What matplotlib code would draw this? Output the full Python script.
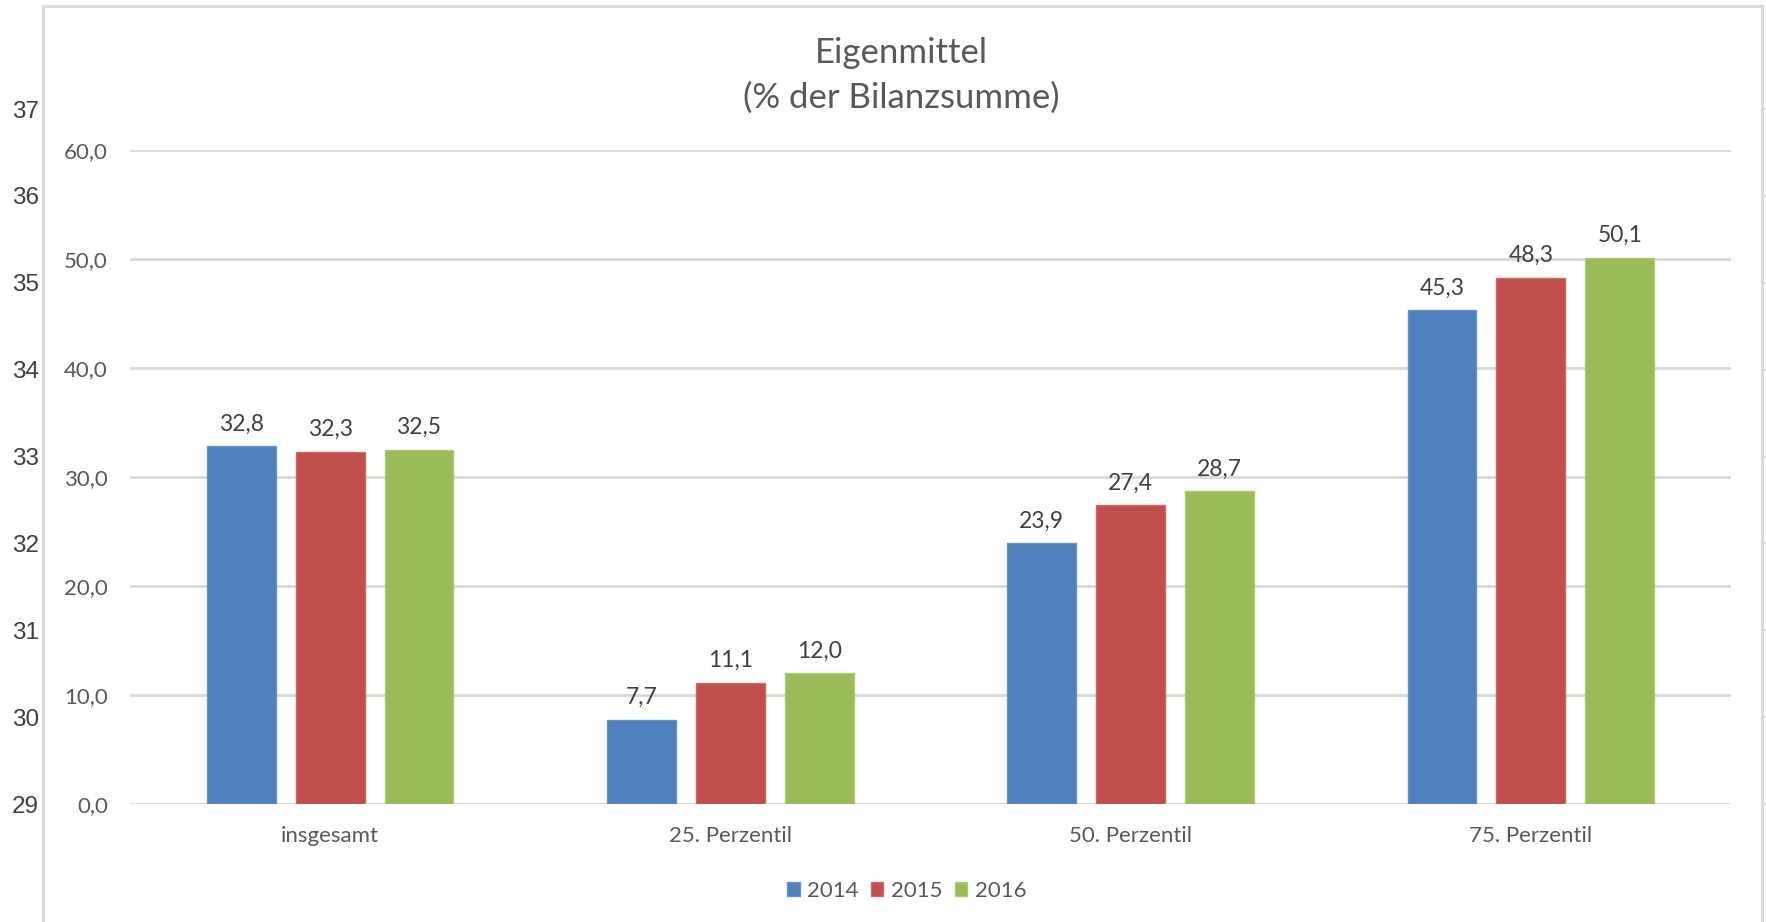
import matplotlib
matplotlib.use("Agg")
import matplotlib.pyplot as plt
import numpy as np
from matplotlib.patches import Rectangle

categories = ["insgesamt", "25. Perzentil", "50. Perzentil", "75. Perzentil"]
years = ["2014", "2015", "2016"]
values_2014 = [32.8, 7.7, 23.9, 45.3]
values_2015 = [32.3, 11.1, 27.4, 48.3]
values_2016 = [32.5, 12.0, 28.7, 50.1]
y_ticks = [0, 10, 20, 30, 40, 50, 60]
bg_ticks = [29, 30, 31, 32, 33, 34, 35, 36, 37]

colors = ["#4F81BD", "#C0504D", "#9BBB59"]
edge_colors = ["#6A94C8", "#CC6A67", "#AECB74"]
FONT = ["Lato", "DejaVu Sans"]
plt.rcParams['font.family'] = FONT

W, H = 1766, 922
fig = plt.figure(figsize=(W / 100, H / 100), dpi=100)

# chart frame (Excel chart area border)
fig.patches.append(Rectangle((43 / W, -0.05), (1762 - 43) / W, (922 - 6) / H + 0.05,
                             transform=fig.transFigure, fill=False,
                             edgecolor="#D9D9D9", linewidth=2.2, zorder=0))

# background spreadsheet axis labels (from underlying sheet)
axb = fig.add_axes([43 / W, (922 - 804) / H, 0.0001, (804 - 109) / H])
axb.set_ylim(29, 37)
axb.set_yticks(bg_ticks)
axb.set_yticklabels([str(t) for t in bg_ticks], fontsize=17.5, color="#404040",
                    family=["Liberation Sans", "DejaVu Sans"])
axb.tick_params(axis="y", length=0, pad=3)
axb.set_xticks([])
for s in axb.spines.values():
    s.set_visible(False)
axb.patch.set_alpha(0)

axr = fig.add_axes([1762 / W, (922 - 804) / H, 0.0001, (804 - 109) / H])
axr.set_ylim(29, 37)
axr.set_yticks(bg_ticks)
axr.set_yticklabels([])
axr.yaxis.tick_right()
axr.tick_params(axis="y", length=5, color="#D9D9D9", width=1.5)
axr.set_xticks([])
for s in axr.spines.values():
    s.set_visible(False)
axr.patch.set_alpha(0)

# main axes
ax = fig.add_axes([130 / W, (922 - 804) / H, (1731 - 130) / W, (804 - 150) / H])
ax.set_xlim(-0.5, len(categories) - 0.5)
ax.set_ylim(0, 60)
ax.patch.set_alpha(0)

x = np.arange(len(categories))
bw = 0.172
off = 0.222
series = [values_2014, values_2015, values_2016]
for i, (vals, c, ec) in enumerate(zip(series, colors, edge_colors)):
    bars = ax.bar(x + (i - 1) * off, vals, width=bw, color=c, edgecolor=ec,
                  linewidth=1.0, label=years[i], zorder=3)
    for b, v in zip(bars, vals):
        ax.annotate(f"{v:.1f}".replace(".", ","), (b.get_x() + b.get_width() / 2, v),
                    xytext=(0, 8.5), textcoords="offset points", ha="center", va="bottom",
                    fontsize=16.5, color="#404040")

ax.set_yticks(y_ticks)
ax.set_yticklabels([f"{t:.1f}".replace(".", ",") for t in y_ticks], fontsize=16, color="#595959")
ax.yaxis.grid(True, color="#D9D9D9", linewidth=2, zorder=0)
ax.set_axisbelow(True)
ax.tick_params(axis="y", length=0, pad=16)
ax.set_xticks(x)
ax.set_xticklabels(categories, fontsize=16, color="#595959")
ax.tick_params(axis="x", length=0, pad=16)
for s in ax.spines.values():
    s.set_visible(False)

fig.text(901 / W, 1 - 53 / H, "Eigenmittel", ha="center", va="center",
         fontsize=25, color="#595959")
fig.text(901 / W, 1 - 98 / H, "(% der Bilanzsumme)", ha="center", va="center",
         fontsize=25, color="#595959")

handles = [Rectangle((0, 0), 1, 1, facecolor=c, edgecolor=ec) for c, ec in zip(colors, edge_colors)]
fig.legend(handles, years, loc="center", bbox_to_anchor=(907 / W, 1 - 891 / H), ncol=3,
           frameon=False, fontsize=16, labelcolor="#595959", handlelength=0.55,
           handleheight=0.55, handletextpad=0.35, columnspacing=0.55)

fig.savefig("out.png", dpi=100, facecolor="white")
